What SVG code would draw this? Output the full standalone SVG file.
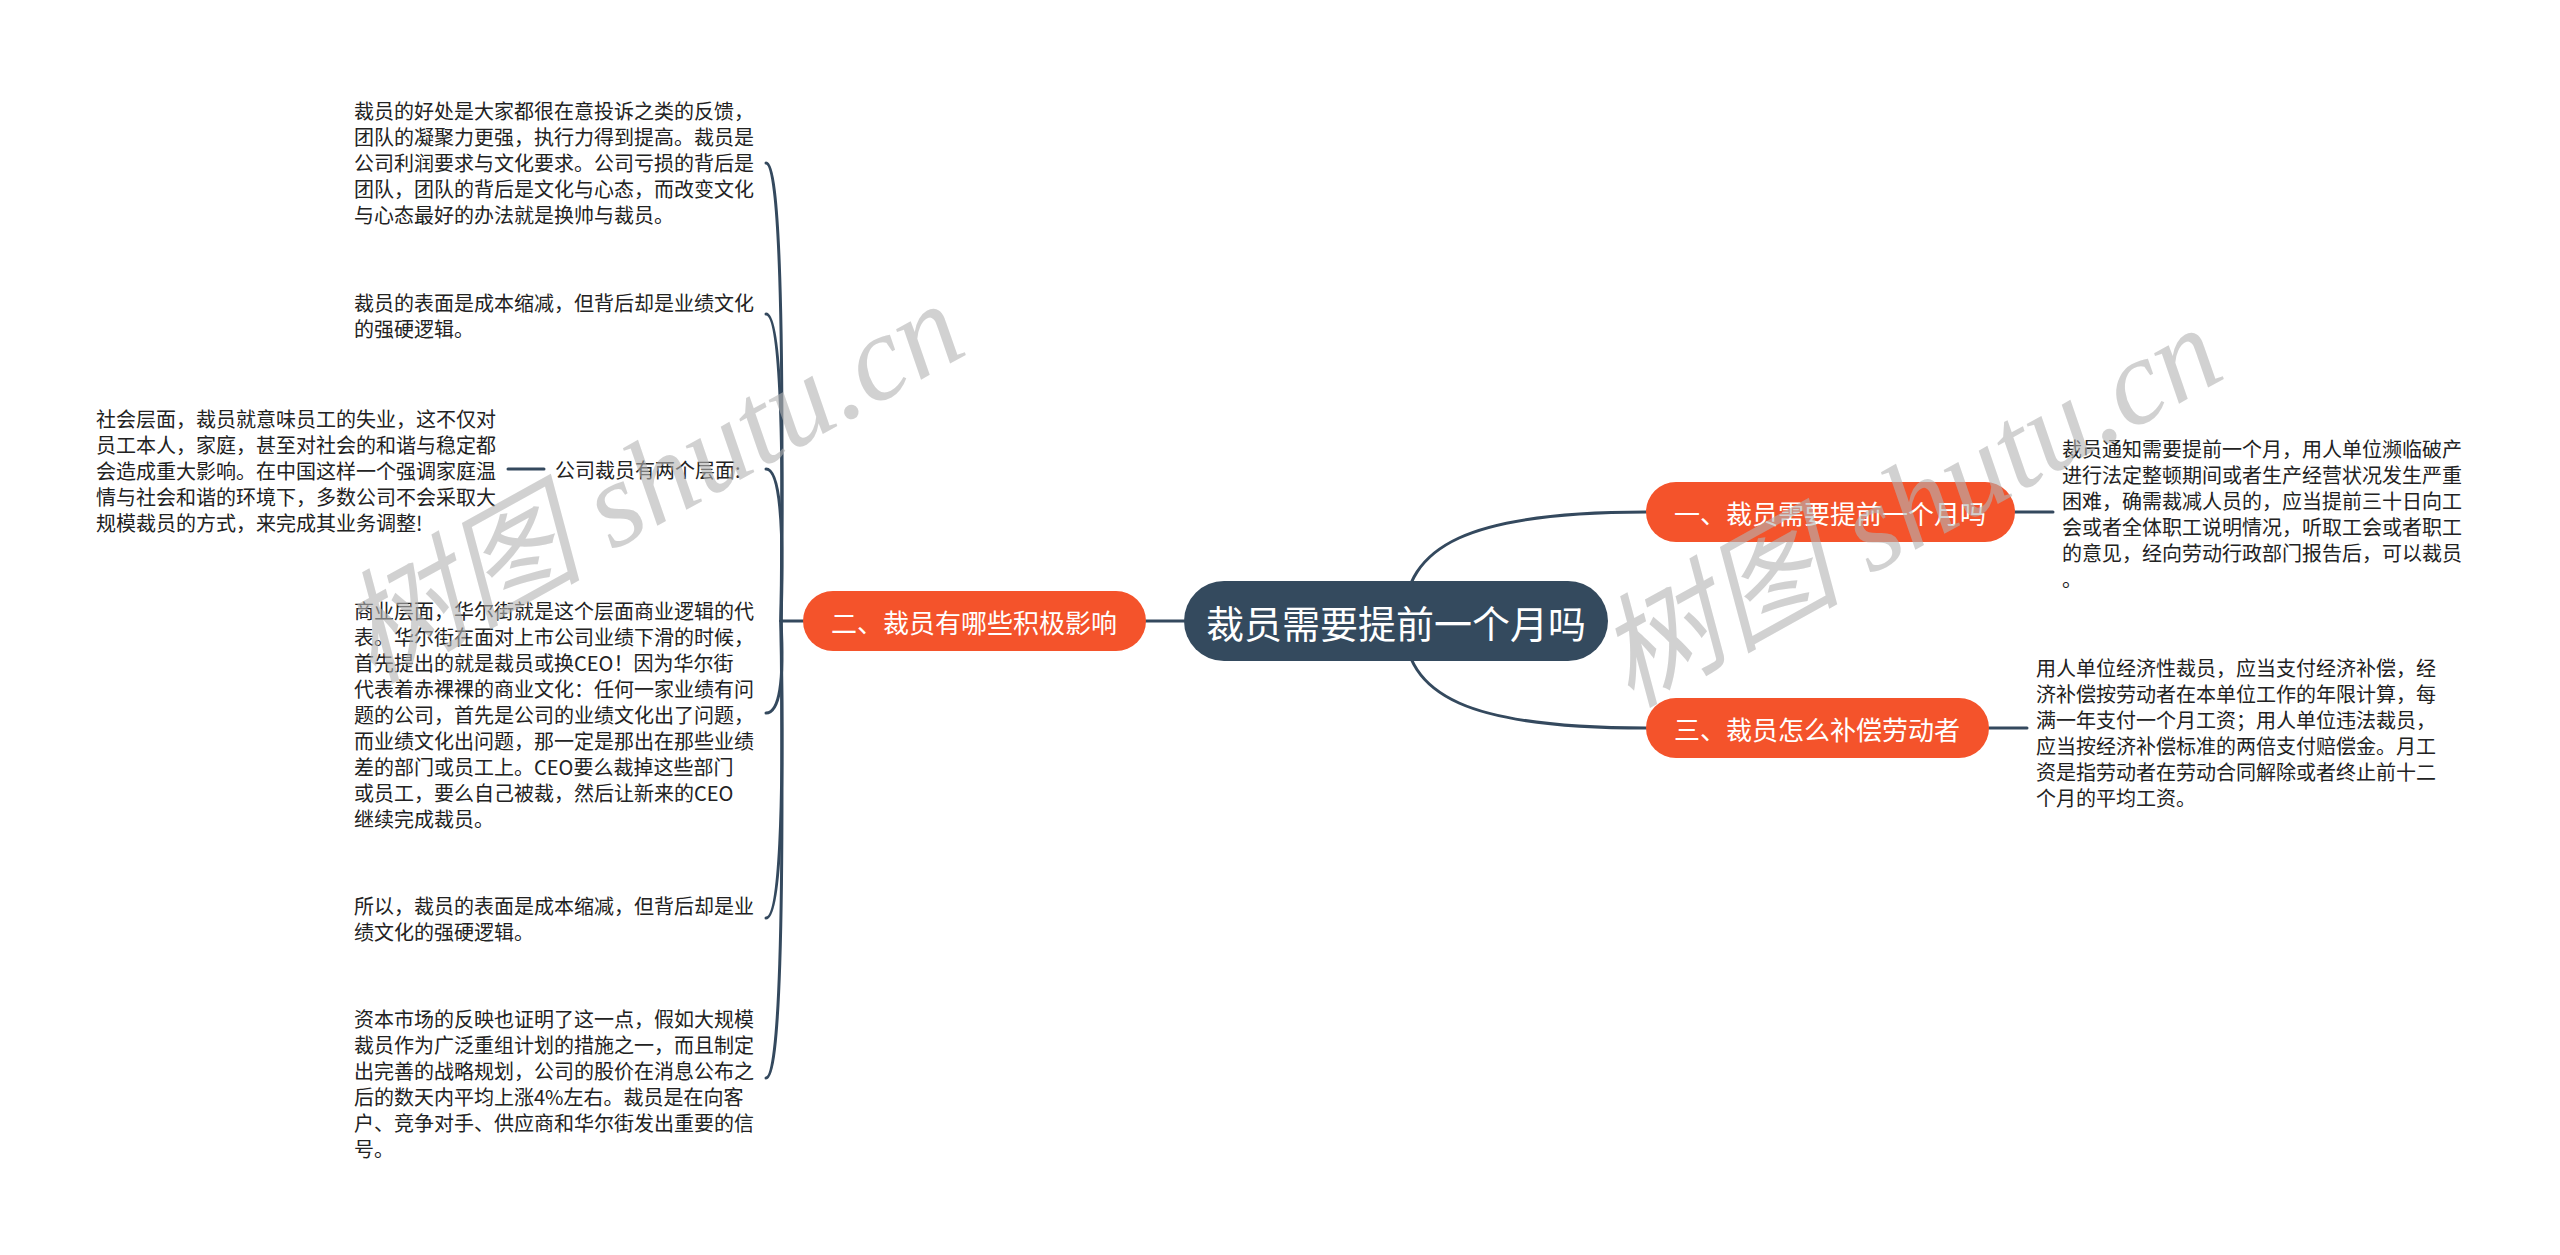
<svg xmlns="http://www.w3.org/2000/svg" width="2560" height="1255" viewBox="0 0 2560 1255">
<style>
.t{font-family:"Noto Sans CJK SC","Noto Sans",sans-serif;font-size:20px;fill:#222;dominant-baseline:central}
.lbl{font-family:"Noto Sans CJK SC","Noto Sans",sans-serif;fill:#fff;dominant-baseline:central;text-anchor:middle}
.conn{fill:none;stroke:#34495e;stroke-width:3;stroke-linecap:round}
.pill{fill:#f4532b}
.wm{font-family:"Liberation Serif","Noto Sans CJK SC",serif;font-style:italic;font-size:122px;fill:#b4b4b4;opacity:0.6}
</style>
<rect width="2560" height="1255" fill="#fff"/>
<g id="connectors">
<path class="conn" d="M1404 621 C1404 545 1470 512 1646 512"/>
<path class="conn" d="M1404 621 C1404 697 1470 728 1646 728"/>
<path class="conn" d="M1146 621 L1184 621"/>
<path class="conn" d="M2015 512 L2053 512"/>
<path class="conn" d="M1989 728 L2027 728"/>
<path class="conn" d="M803 621 L781 621"/>
<path class="conn" d="M781 621 Q786 163 766 163"/>
<path class="conn" d="M781 621 Q786 314 766 314"/>
<path class="conn" d="M781 621 Q786 469 766 469"/>
<path class="conn" d="M781 621 Q786 713 766 713"/>
<path class="conn" d="M781 621 Q786 918 766 918"/>
<path class="conn" d="M781 621 Q786 1078 766 1078"/>
<path class="conn" d="M544 469 L508 469"/>
</g>
<g id="root">
<rect x="1184" y="581" width="424" height="80" rx="40" fill="#344a5e"/>
<text class="lbl" x="1396" y="621" font-size="38">裁员需要提前一个月吗</text>
</g>
<g id="n1">
<rect class="pill" x="1646" y="482" width="369" height="60" rx="30"/>
<text class="lbl" x="1830" y="512" font-size="26">一、裁员需要提前一个月吗</text>
</g>
<g id="n2">
<rect class="pill" x="803" y="591" width="343" height="60" rx="30"/>
<text class="lbl" x="974" y="621" font-size="26">二、裁员有哪些积极影响</text>
</g>
<g id="n3">
<rect class="pill" x="1646" y="698" width="343" height="60" rx="30"/>
<text class="lbl" x="1817" y="728" font-size="26">三、裁员怎么补偿劳动者</text>
</g>
<g id="r1">
<text class="t"><tspan x="2062" y="448">裁员通知需要提前一个月，用人单位濒临破产</tspan><tspan x="2062" y="474">进行法定整顿期间或者生产经营状况发生严重</tspan><tspan x="2062" y="500">困难，确需裁减人员的，应当提前三十日向工</tspan><tspan x="2062" y="526">会或者全体职工说明情况，听取工会或者职工</tspan><tspan x="2062" y="552">的意见，经向劳动行政部门报告后，可以裁员</tspan><tspan x="2062" y="578">。</tspan></text>
</g>
<g id="r3">
<text class="t"><tspan x="2036" y="667">用人单位经济性裁员，应当支付经济补偿，经</tspan><tspan x="2036" y="693">济补偿按劳动者在本单位工作的年限计算，每</tspan><tspan x="2036" y="719">满一年支付一个月工资；用人单位违法裁员，</tspan><tspan x="2036" y="745">应当按经济补偿标准的两倍支付赔偿金。月工</tspan><tspan x="2036" y="771">资是指劳动者在劳动合同解除或者终止前十二</tspan><tspan x="2036" y="797">个月的平均工资。</tspan></text>
</g>
<g id="c1">
<text class="t"><tspan x="354" y="110">裁员的好处是大家都很在意投诉之类的反馈，</tspan><tspan x="354" y="136">团队的凝聚力更强，执行力得到提高。裁员是</tspan><tspan x="354" y="162">公司利润要求与文化要求。公司亏损的背后是</tspan><tspan x="354" y="188">团队，团队的背后是文化与心态，而改变文化</tspan><tspan x="354" y="214">与心态最好的办法就是换帅与裁员。</tspan></text>
</g>
<g id="c2">
<text class="t"><tspan x="354" y="302">裁员的表面是成本缩减，但背后却是业绩文化</tspan><tspan x="354" y="328">的强硬逻辑。</tspan></text>
</g>
<g id="c3">
<text class="t" x="555" y="469">公司裁员有两个层面:</text>
</g>
<g id="c3a">
<text class="t"><tspan x="96" y="418">社会层面，裁员就意味员工的失业，这不仅对</tspan><tspan x="96" y="444">员工本人，家庭，甚至对社会的和谐与稳定都</tspan><tspan x="96" y="470">会造成重大影响。在中国这样一个强调家庭温</tspan><tspan x="96" y="496">情与社会和谐的环境下，多数公司不会采取大</tspan><tspan x="96" y="522">规模裁员的方式，来完成其业务调整!</tspan></text>
</g>
<g id="c4">
<text class="t"><tspan x="354" y="610">商业层面，华尔街就是这个层面商业逻辑的代</tspan><tspan x="354" y="636">表。华尔街在面对上市公司业绩下滑的时候，</tspan><tspan x="354" y="662">首先提出的就是裁员或换CEO！因为华尔街</tspan><tspan x="354" y="688">代表着赤裸裸的商业文化：任何一家业绩有问</tspan><tspan x="354" y="714">题的公司，首先是公司的业绩文化出了问题，</tspan><tspan x="354" y="740">而业绩文化出问题，那一定是那出在那些业绩</tspan><tspan x="354" y="766">差的部门或员工上。CEO要么裁掉这些部门</tspan><tspan x="354" y="792">或员工，要么自己被裁，然后让新来的CEO</tspan><tspan x="354" y="818">继续完成裁员。</tspan></text>
</g>
<g id="c5">
<text class="t"><tspan x="354" y="905">所以，裁员的表面是成本缩减，但背后却是业</tspan><tspan x="354" y="931">绩文化的强硬逻辑。</tspan></text>
</g>
<g id="c6">
<text class="t"><tspan x="354" y="1018">资本市场的反映也证明了这一点，假如大规模</tspan><tspan x="354" y="1044">裁员作为广泛重组计划的措施之一，而且制定</tspan><tspan x="354" y="1070">出完善的战略规划，公司的股价在消息公布之</tspan><tspan x="354" y="1096">后的数天内平均上涨4%左右。裁员是在向客</tspan><tspan x="354" y="1122">户、竞争对手、供应商和华尔街发出重要的信</tspan><tspan x="354" y="1148">号。</tspan></text>
</g>
<g id="watermarks">
<text class="wm" transform="translate(372 684) rotate(-29)">树图 shutu.cn</text>
<text class="wm" transform="translate(1630 708) rotate(-29)">树图 shutu.cn</text>
</g>
</svg>
